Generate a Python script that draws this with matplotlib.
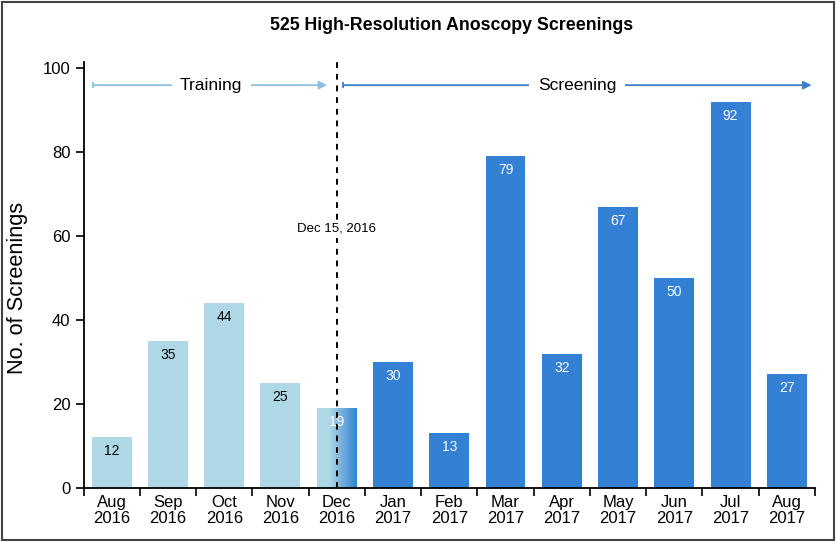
import matplotlib.pyplot as plt
import numpy as np
from matplotlib.colors import LinearSegmentedColormap
from matplotlib.patches import Rectangle

plt.rcParams["font.family"] = ["Liberation Sans", "DejaVu Sans"]

mois = ["Aug\n2016", "Sep\n2016", "Oct\n2016", "Nov\n2016", "Dec\n2016",
        "Jan\n2017", "Feb\n2017", "Mar\n2017", "Apr\n2017", "May\n2017",
        "Jun\n2017", "Jul\n2017", "Aug\n2017"]
valeurs = [12, 35, 44, 25, 19, 30, 13, 79, 32, 67, 50, 92, 27]
# 0 = training, 1 = transition (Dec), 2 = screening
phase = [0, 0, 0, 0, 1, 2, 2, 2, 2, 2, 2, 2, 2]

CLAIR = "#aed8e6"
FONCE = "#3480d4"
FLECHE_CLAIR = "#8dbfe0"
FLECHE_FONCE = "#3a7fcf"

fig = plt.figure(figsize=(8.37, 5.42), dpi=100)
ax = fig.add_axes([0.0998, 0.1002, 0.8739, 0.786])

x = np.arange(len(mois))
largeur = 0.71
for i, (v, p) in enumerate(zip(valeurs, phase)):
    if p == 1:
        # barre en degrade clair -> fonce
        cmap = LinearSegmentedColormap.from_list(
            "deg", [(0, CLAIR), (0.3, CLAIR), (1, FONCE)])
        grad = np.linspace(0, 1, 256).reshape(1, -1)
        ax.imshow(grad, cmap=cmap, aspect="auto", zorder=2,
                  extent=(i - largeur / 2, i + largeur / 2, 0, v))
        couleur_txt = "white"
    else:
        ax.bar(i, v, width=largeur, color=CLAIR if p == 0 else FONCE, zorder=2)
        couleur_txt = "black" if p == 0 else "white"
    ax.annotate(str(v), (i, v), xytext=(0, -14), textcoords="offset pixels",
                ha="center", va="center", fontsize=10, color=couleur_txt, zorder=4)

ax.set_xlim(-0.5, len(mois) - 0.5)
ax.set_ylim(0, 101.6)

# ligne pointillee Dec 15
ax.axvline(4, color="black", linestyle=(0, (3, 3)), linewidth=1.4, zorder=3)
ax.text(4, 61.7, "Dec 15, 2016", ha="center", va="center", fontsize=9.5,
        zorder=5, bbox=dict(facecolor="white", edgecolor="none", pad=2))

# fleches Training / Screening
y_fl = 96
ax.annotate("", xy=(3.83, y_fl), xytext=(-0.33, y_fl),
            arrowprops=dict(arrowstyle="-|>", color=FLECHE_CLAIR, lw=1.3,
                            mutation_scale=12, shrinkA=0, shrinkB=0))
ax.plot([-0.33], [y_fl], marker="|", color=FLECHE_CLAIR, markersize=5, mew=1.3)
ax.text(1.77, y_fl, "Training", ha="center", va="center", fontsize=12.5,
        bbox=dict(facecolor="white", edgecolor="none", pad=6))
ax.annotate("", xy=(12.44, y_fl), xytext=(4.11, y_fl),
            arrowprops=dict(arrowstyle="-|>", color=FLECHE_FONCE, lw=1.3,
                            mutation_scale=12, shrinkA=0, shrinkB=0))
ax.plot([4.11], [y_fl], marker="|", color=FLECHE_FONCE, markersize=5, mew=1.3)
ax.text(8.27, y_fl, "Screening", ha="center", va="center", fontsize=12.5,
        bbox=dict(facecolor="white", edgecolor="none", pad=6))

# axes
ax.set_xticks(np.arange(-0.5, len(mois), 1.0))
ax.set_xticklabels([])
ax.set_xticks(x, minor=True)
ax.set_xticklabels(mois, minor=True, fontsize=12, linespacing=1.15)
ax.tick_params(axis="x", which="major", direction="out", length=6, width=1.2)
ax.tick_params(axis="x", which="minor", length=0, pad=5)
ax.set_yticks(range(0, 101, 20))
ax.tick_params(axis="y", direction="out", length=6, width=1.2, labelsize=12)
ax.set_ylabel("No. of Screenings", fontsize=15.7)
ax.yaxis.set_label_coords(-0.076, 0.47)
for s in ["top", "right"]:
    ax.spines[s].set_visible(False)
for s in ["left", "bottom"]:
    ax.spines[s].set_linewidth(1.3)

fig.text(0.54, 0.953, "525 High-Resolution Anoscopy Screenings",
         ha="center", va="center", fontsize=12.8, fontweight="bold")

# cadre autour de la figure
fig.patches.append(Rectangle((0.002, 0.004), 0.994, 0.993, transform=fig.transFigure,
                             fill=False, edgecolor="#444444", linewidth=1.5))

fig.savefig("out.png", dpi=100)
